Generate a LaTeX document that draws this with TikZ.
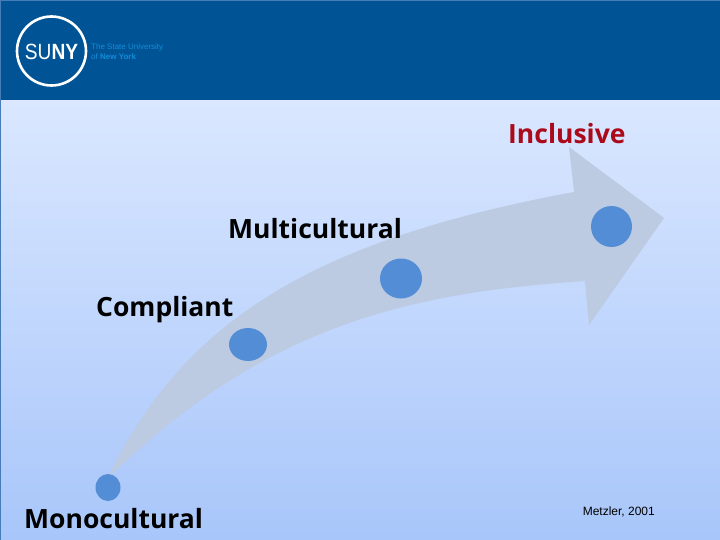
\documentclass[tikz,border=0pt]{standalone}
\usepackage{fontspec}
\setmainfont{Open Sans}
\newfontfamily\arialfont{Liberation Sans}
\definecolor{bartop}{RGB}{0,84,150}
\definecolor{bgtop}{RGB}{218,231,255}
\definecolor{bgbot}{RGB}{168,198,250}
\definecolor{arrowfill}{RGB}{188,202,226}
\definecolor{dotfill}{RGB}{83,141,213}
\definecolor{incl}{RGB}{170,10,25}
\definecolor{logotext}{RGB}{20,140,215}
\definecolor{framecol}{RGB}{70,125,185}
\tikzset{
  lbl/.style={font=\bfseries\fontsize{26.5}{30}\selectfont,text=black,inner sep=0pt},
  dot/.style={fill=dotfill,draw=none,ellipse,inner sep=0pt},
  logotxt/.style={anchor=base west,inner sep=0pt,text=logotext,font=\arialfont\fontsize{8}{8}\selectfont},
}
\usetikzlibrary{shapes.geometric}
\begin{document}
\begin{tikzpicture}[x=1pt,y=-1pt]
\useasboundingbox (0,0) rectangle (720,540);
\shade[top color=bgtop,bottom color=bgbot] (0,100) rectangle (720,540);
\fill[bartop] (0,0) rectangle (720,100.5);
\fill[framecol] (0,0) rectangle (720,1);
\fill[framecol] (0,0) rectangle (1,540);
\fill[arrowfill] (108,478) .. controls (185,315) and (325,238) .. (574,192)
  -- (569,147) -- (664,218) -- (589,325) -- (585,281)
  .. controls (400,293) and (260,330) .. (108,478) -- cycle;
\node[dot,minimum width=25pt,minimum height=27pt] (d1) at (108,487.5) {};
\node[dot,minimum width=38pt,minimum height=33pt] (d2) at (248,344.5) {};
\node[dot,minimum width=42pt,minimum height=40pt] (d3) at (401,278.5) {};
\node[dot,minimum width=41pt,minimum height=41pt] (d4) at (611.5,226.5) {};
\node[lbl,anchor=base west] (mono) at (24,528) {Monocultural};
\node[lbl,anchor=base west] (comp) at (96,316) {Compliant};
\node[lbl,anchor=base west] (multi) at (228,239) {Multicultural};
\node[lbl,anchor=base west,text=incl] (inc) at (508,143.5) {Inclusive};
\node[anchor=base east,inner sep=0pt,font=\arialfont\fontsize{12}{14}\selectfont] (cite) at (655,515.5) {Metzler, 2001};
\node[draw=white,line width=2.6pt,circle,minimum size=69pt,inner sep=0pt] (ring) at (51.5,51) {};
\node[text=white,xscale=0.87,font=\arialfont\fontsize{22}{26}\selectfont,inner sep=0pt] (suny) at (51.5,51.5) {SU\textbf{NY}};
\node[logotxt] (l1) at (91,49.5) {The State University};
\node[logotxt] (l2) at (91,60) {of \textbf{New York}};
\end{tikzpicture}
\end{document}
